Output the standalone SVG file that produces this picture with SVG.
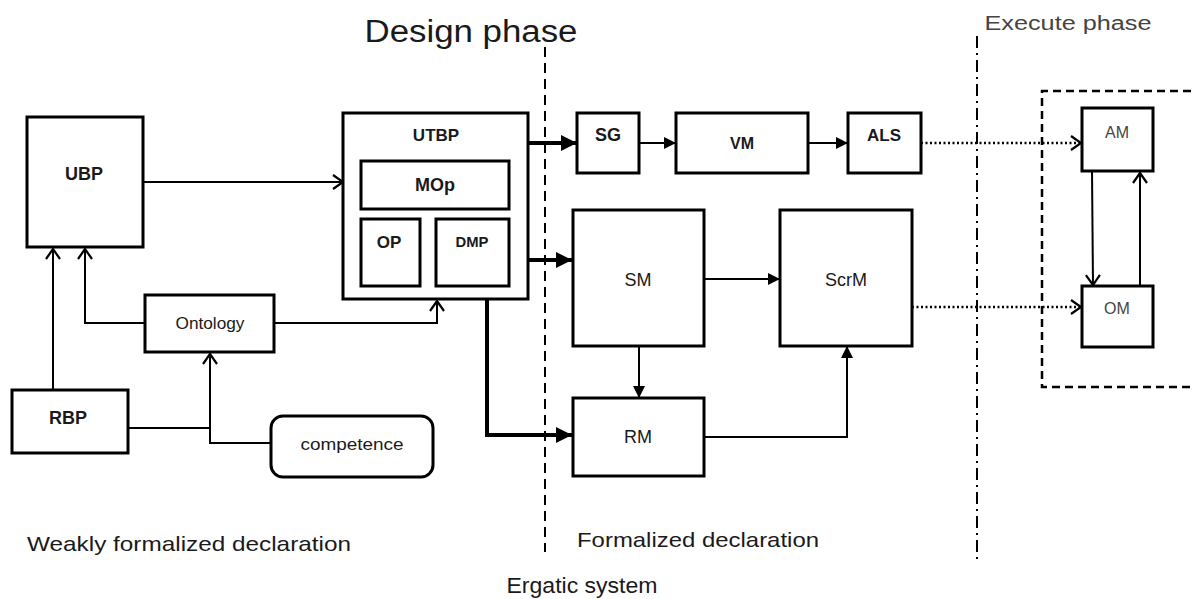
<svg xmlns="http://www.w3.org/2000/svg" width="1192" height="599" viewBox="0 0 1192 599">
<style>
.box{fill:#fff;stroke:#000;stroke-width:3}
.t{font-family:"Liberation Sans",Arial,sans-serif;fill:#1a1a1a;text-anchor:middle}
.b{font-weight:bold}
.ln{fill:none;stroke:#000;stroke-width:2}
.thick{fill:none;stroke:#000;stroke-width:4}
.dot{fill:none;stroke:#000;stroke-width:2.5;stroke-dasharray:2 2.5}
.gray{fill:#444}
</style>
<defs>
<marker id="open" markerUnits="userSpaceOnUse" markerWidth="14" markerHeight="18" refX="11" refY="8" orient="auto">
<path d="M1,1 L11,8 L1,15" fill="none" stroke="#000" stroke-width="2.2"/>
</marker>
<marker id="fill" markerUnits="userSpaceOnUse" markerWidth="14" markerHeight="12" refX="12" refY="6" orient="auto">
<path d="M0,0 L12,6 L0,12 Z" fill="#000"/>
</marker>
<marker id="fillbig" markerUnits="userSpaceOnUse" markerWidth="18" markerHeight="16" refX="16" refY="8" orient="auto">
<path d="M0,0 L16,8 L0,16 Z" fill="#000"/>
</marker>
</defs>
<rect width="1192" height="599" fill="#fff"/>

<text class="t" x="471" y="42" font-size="31" textLength="213" lengthAdjust="spacingAndGlyphs">Design phase</text>
<text class="t gray" x="1068" y="30" font-size="20" textLength="167" lengthAdjust="spacingAndGlyphs">Execute phase</text>

<g id="dividers">
<line x1="545" y1="47" x2="545" y2="552" stroke="#000" stroke-width="2" stroke-dasharray="10 6"/>
<line x1="977" y1="36" x2="977" y2="562" stroke="#000" stroke-width="2" stroke-dasharray="12 5 2 5"/>
<path d="M1191,91 H1042 V387 H1191" fill="none" stroke="#000" stroke-width="2.5" stroke-dasharray="8 5"/>
</g>

<g id="connectors">
<path class="ln" d="M143,182 H343" marker-end="url(#open)"/>
<path class="ln" d="M53,390 V249" marker-end="url(#open)"/>
<path class="ln" d="M145,323 H85 V249" marker-end="url(#open)"/>
<path class="ln" d="M274,323 H437 V301" marker-end="url(#open)"/>
<path class="ln" d="M128,428 H210"/>
<path class="ln" d="M270,443 H210 V354" marker-end="url(#open)"/>
<path class="thick" d="M528,143 H577" marker-end="url(#fillbig)"/>
<path class="thick" d="M528,260 H572" marker-end="url(#fillbig)"/>
<path class="thick" d="M487,299 V435 H572" marker-end="url(#fillbig)"/>
<path class="ln" d="M639,143 H676" marker-end="url(#fill)"/>
<path class="ln" d="M808,143 H848" marker-end="url(#fill)"/>
<path class="ln" d="M704,279 H780" marker-end="url(#fill)"/>
<path class="ln" d="M639,346 V398" marker-end="url(#fill)"/>
<path class="ln" d="M704,437 H847 V346" marker-end="url(#fill)"/>
<path class="dot" d="M921,143 H1081" marker-end="url(#open)"/>
<path class="dot" d="M912,307 H1081" marker-end="url(#open)"/>
<path class="ln" d="M1092,171 L1093,285" marker-end="url(#open)"/>
<path class="ln" d="M1140,286 V173" marker-end="url(#open)"/>
</g>

<g id="UBP"><rect class="box" x="27" y="117" width="116" height="130"/><text class="t b" x="84" y="180" font-size="18">UBP</text></g>
<g id="RBP"><rect class="box" x="12" y="390" width="116" height="63"/><text class="t b" x="68" y="424" font-size="18">RBP</text></g>
<g id="Ontology"><rect class="box" x="145" y="295" width="129" height="57"/><text class="t" x="210" y="329" font-size="16" textLength="69" lengthAdjust="spacingAndGlyphs">Ontology</text></g>
<g id="competence"><rect class="box" x="271" y="416" width="162" height="61" rx="12"/><text class="t" x="352" y="450" font-size="16" textLength="103" lengthAdjust="spacingAndGlyphs">competence</text></g>
<g id="UTBP"><rect class="box" x="343" y="113" width="185" height="186"/><text class="t b" x="436" y="141" font-size="17">UTBP</text>
<g id="MOp"><rect class="box" x="361" y="161" width="148" height="48"/><text class="t b" x="435" y="191" font-size="18">MOp</text></g>
<g id="OP"><rect class="box" x="361" y="219" width="59" height="67"/><text class="t b" x="389" y="248" font-size="17">OP</text></g>
<g id="DMP"><rect class="box" x="436" y="219" width="73" height="67"/><text class="t b" x="472" y="247" font-size="15" textLength="33" lengthAdjust="spacingAndGlyphs">DMP</text></g>
</g>
<g id="SG"><rect class="box" x="577" y="113" width="62" height="60"/><text class="t b" x="608" y="141" font-size="18">SG</text></g>
<g id="VM"><rect class="box" x="676" y="113" width="132" height="60"/><text class="t b" x="742" y="149" font-size="16">VM</text></g>
<g id="ALS"><rect class="box" x="848" y="113" width="73" height="60"/><text class="t b" x="884" y="141" font-size="17">ALS</text></g>
<g id="SM"><rect class="box" x="573" y="210" width="131" height="136"/><text class="t" x="638" y="286" font-size="18">SM</text></g>
<g id="ScrM"><rect class="box" x="780" y="210" width="132" height="136"/><text class="t" x="846" y="286" font-size="18">ScrM</text></g>
<g id="RM"><rect class="box" x="573" y="398" width="131" height="78"/><text class="t" x="638" y="443" font-size="18">RM</text></g>
<g id="AM"><rect class="box" x="1082" y="108" width="71" height="63"/><text class="t gray" x="1117" y="138" font-size="16">AM</text></g>
<g id="OM"><rect class="box" x="1082" y="286" width="71" height="61"/><text class="t gray" x="1117" y="314" font-size="16">OM</text></g>

<text class="t" x="189" y="551" font-size="21" textLength="324" lengthAdjust="spacingAndGlyphs">Weakly formalized declaration</text>
<text class="t" x="698" y="547" font-size="21" textLength="242" lengthAdjust="spacingAndGlyphs">Formalized declaration</text>
<text class="t" x="582" y="593" font-size="22" textLength="151" lengthAdjust="spacingAndGlyphs">Ergatic system</text>
</svg>
